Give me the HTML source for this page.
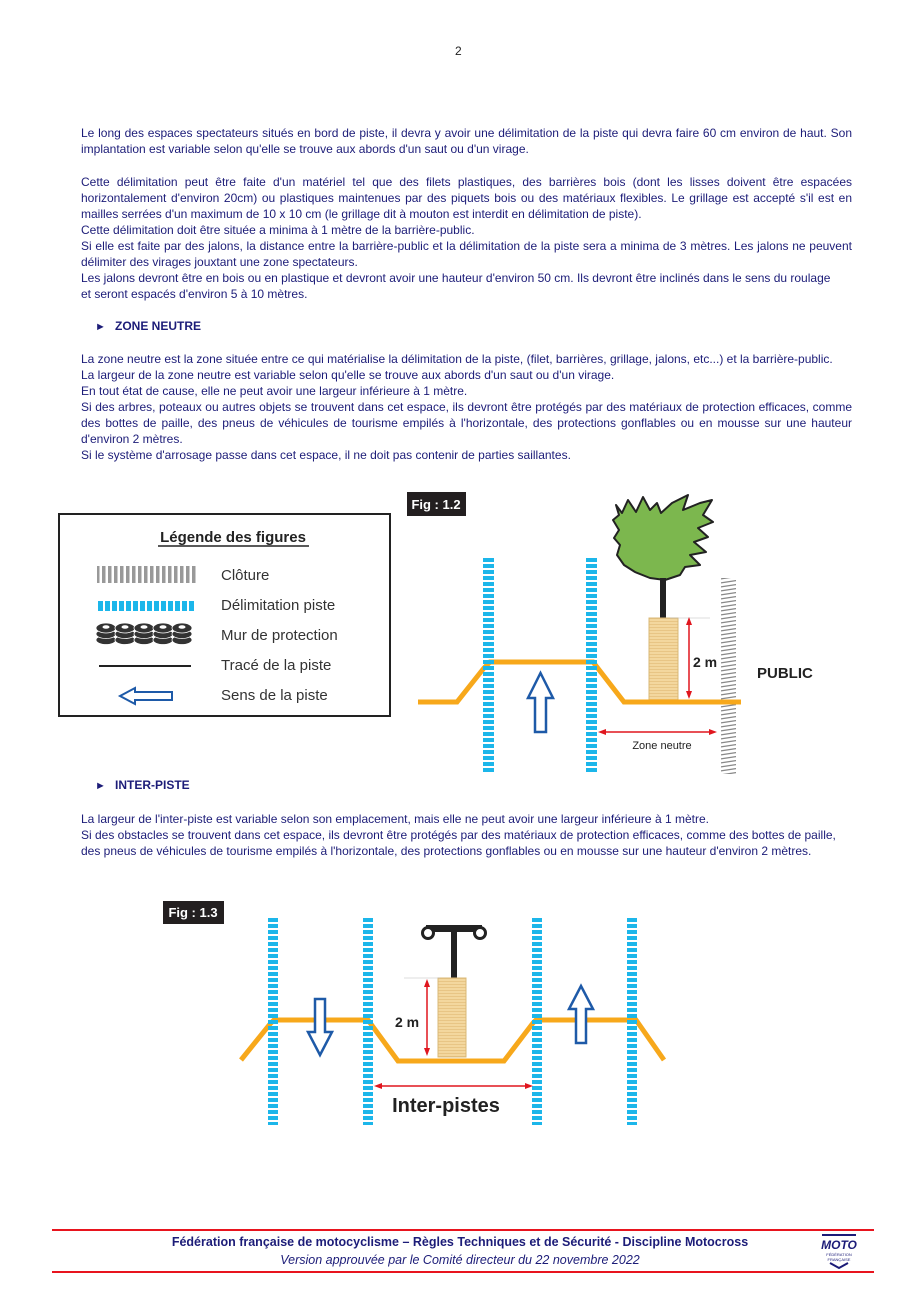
<!DOCTYPE html>
<html><head><meta charset="utf-8">
<style>
*{margin:0;padding:0}
body{width:919px;height:1300px;position:relative;background:#fff;font-family:"Liberation Sans",sans-serif;color:#1c1c78;overflow:hidden}
.t{position:absolute;left:81px;width:771px;font-size:12px;line-height:16px;text-align:justify}
.h{position:absolute;left:95px;font-size:12px;font-weight:bold}
.h span{display:inline-block;width:20px;font-size:11px}
svg{position:absolute;left:0;top:0}
</style></head><body>
<div style="position:absolute;left:455px;top:44px;font-size:12px;color:#222">2</div>

<div class="t" style="top:125px">Le long des espaces spectateurs situés en bord de piste, il devra y avoir une délimitation de la piste qui devra faire 60 cm environ de haut. Son implantation est variable selon qu'elle se trouve aux abords d'un saut ou d'un virage.</div>
<div class="t" style="top:174px">Cette délimitation peut être faite d'un matériel tel que des filets plastiques, des barrières bois (dont les lisses doivent être espacées horizontalement d'environ 20cm) ou plastiques maintenues par des piquets bois ou des matériaux flexibles. Le grillage est accepté s'il est en mailles serrées d'un maximum de 10 x 10 cm (le grillage dit à mouton est interdit en délimitation de piste).<br>Cette délimitation doit être située a minima à 1 mètre de la barrière-public.<br>Si elle est faite par des jalons, la distance entre la barrière-public et la délimitation de la piste sera a minima de 3 mètres. Les jalons ne peuvent délimiter des virages jouxtant une zone spectateurs.<br>Les jalons devront être en bois ou en plastique et devront avoir une hauteur d'environ 50 cm. Ils devront être inclinés dans le sens du roulage<br>et seront espacés d'environ 5 à 10 mètres.</div>
<div class="h" style="top:319px"><span>►</span>ZONE NEUTRE</div>
<div class="t" style="top:351px">La zone neutre est la zone située entre ce qui matérialise la délimitation de la piste, (filet, barrières, grillage, jalons, etc...) et la barrière-public.<br>La largeur de la zone neutre est variable selon qu'elle se trouve aux abords d'un saut ou d'un virage.<br>En tout état de cause, elle ne peut avoir une largeur inférieure à 1 mètre.<br>Si des arbres, poteaux ou autres objets se trouvent dans cet espace, ils devront être protégés par des matériaux de protection efficaces, comme des bottes de paille, des pneus de véhicules de tourisme empilés à l'horizontale, des protections gonflables ou en mousse sur une hauteur d'environ 2 mètres.<br>Si le système d'arrosage passe dans cet espace, il ne doit pas contenir de parties saillantes.</div>
<div class="h" style="top:778px"><span>►</span>INTER-PISTE</div>
<div class="t" style="top:811px;text-align:left">La largeur de l'inter-piste est variable selon son emplacement, mais elle ne peut avoir une largeur inférieure à 1 mètre.<br>Si des obstacles se trouvent dans cet espace, ils devront être protégés par des matériaux de protection efficaces, comme des bottes de paille, des pneus de véhicules de tourisme empilés à l'horizontale, des protections gonflables ou en mousse sur une hauteur d'environ 2 mètres.</div>

<svg width="919" height="1300" viewBox="0 0 919 1300">
<defs>
<pattern id="bl" width="20" height="6" patternUnits="userSpaceOnUse"><rect width="20" height="4" fill="#1cb6ea"/></pattern>
<pattern id="fe" width="20" height="4" patternUnits="userSpaceOnUse"><line x1="0" y1="3" x2="20" y2="0" stroke="#888" stroke-width="1.3"/></pattern>
<pattern id="cl" width="6" height="20" patternUnits="userSpaceOnUse"><rect width="3.5" height="20" fill="#999"/></pattern>
<pattern id="dl" width="7" height="20" patternUnits="userSpaceOnUse"><rect width="5" height="20" fill="#1cb6ea"/></pattern>
<pattern id="st" width="4" height="3" patternUnits="userSpaceOnUse"><rect width="4" height="3" fill="#f3d79e"/><rect width="4" height="1" fill="#e8c585"/></pattern>
</defs>
<!-- legend -->
<rect x="59" y="514" width="331" height="202" fill="#fff" stroke="#222" stroke-width="2"/>
<text x="233" y="542" text-anchor="middle" font-family="Liberation Sans" font-weight="bold" font-size="15" fill="#222">Légende des figures</text>
<line x1="158" y1="546" x2="309" y2="546" stroke="#222" stroke-width="1.5"/>
<rect x="97" y="566" width="99" height="17" fill="url(#cl)"/>
<rect x="97" y="601" width="99" height="10" fill="url(#dl)"/>
<g fill="#333" stroke="#fff" stroke-width="0.8">
<ellipse cx="106" cy="640" rx="10" ry="4.5"/><ellipse cx="125" cy="640" rx="10" ry="4.5"/><ellipse cx="144" cy="640" rx="10" ry="4.5"/><ellipse cx="163" cy="640" rx="10" ry="4.5"/><ellipse cx="182" cy="640" rx="10" ry="4.5"/>
<ellipse cx="106" cy="634" rx="10" ry="4.5"/><ellipse cx="125" cy="634" rx="10" ry="4.5"/><ellipse cx="144" cy="634" rx="10" ry="4.5"/><ellipse cx="163" cy="634" rx="10" ry="4.5"/><ellipse cx="182" cy="634" rx="10" ry="4.5"/>
<ellipse cx="106" cy="628" rx="10" ry="5"/><ellipse cx="125" cy="628" rx="10" ry="5"/><ellipse cx="144" cy="628" rx="10" ry="5"/><ellipse cx="163" cy="628" rx="10" ry="5"/><ellipse cx="182" cy="628" rx="10" ry="5"/>
</g>
<g fill="#fff"><ellipse cx="106" cy="627" rx="3.5" ry="1.8"/><ellipse cx="125" cy="627" rx="3.5" ry="1.8"/><ellipse cx="144" cy="627" rx="3.5" ry="1.8"/><ellipse cx="163" cy="627" rx="3.5" ry="1.8"/><ellipse cx="182" cy="627" rx="3.5" ry="1.8"/></g>
<line x1="99" y1="666" x2="191" y2="666" stroke="#222" stroke-width="2"/>
<path d="M120 696 L135 688 L135 692 L172 692 L172 700 L135 700 L135 704 Z" fill="#fff" stroke="#1e5aa8" stroke-width="2"/>
<g font-family="Liberation Sans" font-size="15" fill="#333">
<text x="221" y="580">Clôture</text><text x="221" y="610">Délimitation piste</text><text x="221" y="640">Mur de protection</text><text x="221" y="670">Tracé de la piste</text><text x="221" y="700">Sens de la piste</text></g>

<!-- Fig 1.2 -->
<rect x="407" y="492" width="59" height="24" fill="#231f20"/>
<text x="436" y="509" text-anchor="middle" font-family="Liberation Sans" font-weight="bold" font-size="13" fill="#fff">Fig : 1.2</text>
<polygon points="616,505 622,513 628,500 636,512 643,497 650,510 657,503 661,513 672,503 688,495 683,510 700,503 712,500 703,515 713,522 698,528 708,537 694,542 706,552 690,555 700,565 685,567 680,575 665,580 650,578 635,572 624,565 617,555 620,545 614,538 619,530 613,520 619,515" fill="#7cb74e" stroke="#222" stroke-width="2" stroke-linejoin="round"/>
<rect x="660" y="578" width="6" height="42" fill="#222"/>
<rect x="649" y="618" width="29" height="82" fill="url(#st)" stroke="#d9b877" stroke-width="1"/>
<line x1="670" y1="618" x2="710" y2="618" stroke="#bbb" stroke-width="0.6"/>
<rect x="721" y="578" width="15" height="196" fill="url(#fe)"/>
<polyline points="418,702 457,702 484,668 490,662 593,662 624,702 741,702" fill="none" stroke="#f7a81b" stroke-width="5"/>
<rect x="483" y="558" width="11" height="215" fill="url(#bl)"/>
<rect x="586" y="558" width="11" height="215" fill="url(#bl)"/>
<path d="M540.5 673 L553 698 L546 698 L546 732 L535 732 L535 698 L528 698 Z" fill="#fff" stroke="#1e5aa8" stroke-width="2.5"/>
<line x1="689" y1="622" x2="689" y2="696" stroke="#e0161e" stroke-width="1.5"/>
<path d="M689 617 L686 625 L692 625 Z M689 699 L686 691 L692 691 Z" fill="#e0161e"/>
<text x="693" y="667" font-family="Liberation Sans" font-weight="bold" font-size="14" fill="#222">2 m</text>
<text x="757" y="678" font-family="Liberation Sans" font-weight="bold" font-size="15" fill="#222">PUBLIC</text>
<line x1="602" y1="732" x2="713" y2="732" stroke="#e0161e" stroke-width="1.5"/>
<path d="M598 732 L606 729 L606 735 Z M717 732 L709 729 L709 735 Z" fill="#e0161e"/>
<text x="662" y="749" text-anchor="middle" font-family="Liberation Sans" font-size="11" fill="#222">Zone neutre</text>

<!-- Fig 1.3 -->
<rect x="163" y="901" width="61" height="23" fill="#231f20"/>
<text x="193" y="917" text-anchor="middle" font-family="Liberation Sans" font-weight="bold" font-size="13" fill="#fff">Fig : 1.3</text>
<polyline points="241,1060 270,1024 274,1020 368,1020 398,1061 504,1061 533,1023 536,1020 636,1020 664,1060" fill="none" stroke="#f7a81b" stroke-width="5"/>
<rect x="268" y="918" width="10" height="207" fill="url(#bl)"/>
<rect x="363" y="918" width="10" height="207" fill="url(#bl)"/>
<rect x="532" y="918" width="10" height="207" fill="url(#bl)"/>
<rect x="627" y="918" width="10" height="207" fill="url(#bl)"/>
<rect x="426" y="925" width="56" height="7" fill="#222"/>
<circle cx="428" cy="933" r="5.5" fill="#fff" stroke="#222" stroke-width="3"/>
<circle cx="480" cy="933" r="5.5" fill="#fff" stroke="#222" stroke-width="3"/>
<rect x="451" y="925" width="6" height="54" fill="#222"/>
<rect x="438" y="978" width="28" height="79" fill="url(#st)" stroke="#d9b877" stroke-width="1"/>
<line x1="404" y1="978" x2="440" y2="978" stroke="#bbb" stroke-width="0.6"/>
<line x1="427" y1="984" x2="427" y2="1052" stroke="#e0161e" stroke-width="1.5"/>
<path d="M427 979 L424 987 L430 987 Z M427 1056 L424 1048 L430 1048 Z" fill="#e0161e"/>
<text x="395" y="1027" font-family="Liberation Sans" font-weight="bold" font-size="14" fill="#222">2 m</text>
<path d="M320 1055 L332 1032 L325 1032 L325 999 L315 999 L315 1032 L308 1032 Z" fill="#fff" stroke="#1e5aa8" stroke-width="2.5"/>
<path d="M581 986 L593 1009 L586 1009 L586 1043 L576 1043 L576 1009 L569 1009 Z" fill="#fff" stroke="#1e5aa8" stroke-width="2.5"/>
<line x1="378" y1="1086" x2="529" y2="1086" stroke="#e0161e" stroke-width="1.5"/>
<path d="M374 1086 L382 1083 L382 1089 Z M533 1086 L525 1083 L525 1089 Z" fill="#e0161e"/>
<text x="446" y="1112" text-anchor="middle" font-family="Liberation Sans" font-weight="bold" font-size="20" fill="#222">Inter-pistes</text>

<!-- footer -->
<line x1="52" y1="1230" x2="874" y2="1230" stroke="#e8141e" stroke-width="2"/>
<line x1="52" y1="1272" x2="874" y2="1272" stroke="#e8141e" stroke-width="2"/>
<text x="460" y="1246" text-anchor="middle" font-family="Liberation Sans" font-weight="bold" font-size="12.5" fill="#1c1c78">Fédération française de motocyclisme – Règles Techniques et de Sécurité - Discipline Motocross</text>
<text x="460" y="1264" text-anchor="middle" font-family="Liberation Sans" font-style="italic" font-size="12.5" fill="#1c1c78">Version approuvée par le Comité directeur du 22 novembre 2022</text>
<rect x="822" y="1234" width="34" height="2" fill="#1c1c78"/>
<text x="839" y="1249" text-anchor="middle" font-family="Liberation Sans" font-weight="bold" font-style="italic" font-size="12" fill="#1c1c78">MOTO</text>
<text x="839" y="1256" text-anchor="middle" font-family="Liberation Sans" font-size="4" fill="#1c1c78">FÉDÉRATION</text>
<text x="839" y="1261" text-anchor="middle" font-family="Liberation Sans" font-size="4" fill="#1c1c78">FRANÇAISE</text>
<path d="M830 1263 L839 1268 L848 1263" fill="none" stroke="#1c1c78" stroke-width="2"/>
</svg>
</body></html>
